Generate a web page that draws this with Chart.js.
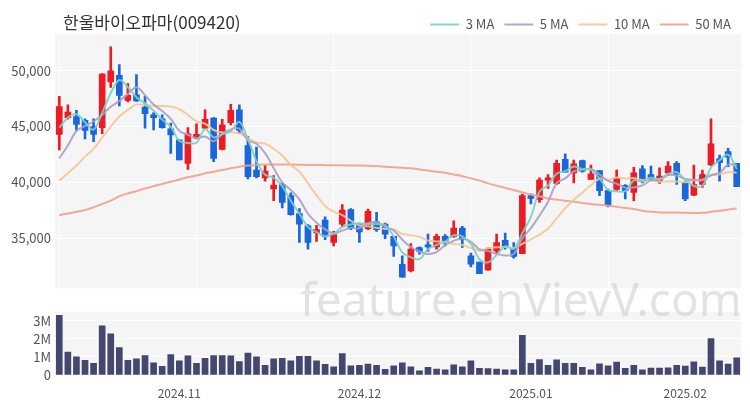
<!DOCTYPE html>
<html><head><meta charset="utf-8">
<script src="https://cdn.jsdelivr.net/npm/chart.js@4"></script>
<style>
html,body{margin:0;padding:0;background:#fff;}
#wrap{position:relative;width:750px;height:400px;overflow:hidden;font-family:'Noto Sans CJK KR','Noto Sans',sans-serif;}
#title{position:absolute;left:63px;top:10px;font-size:17px;line-height:24px;color:#333;white-space:nowrap;}
#mainC{position:absolute;left:0;top:0;}
#volC{position:absolute;left:0;top:300px;}
#wm{position:absolute;left:300px;top:275px;font-family:'Noto Sans',sans-serif;font-size:46px;line-height:46px;color:rgba(200,200,200,0.5);pointer-events:none;white-space:nowrap;}
</style></head>
<body><div id="wrap">
<canvas id="mainC" width="750" height="300"></canvas>
<canvas id="volC" width="750" height="100"></canvas>
<div id="title">한울바이오파마(009420)</div>
<div id="wm">feature.enVievV.com</div>
</div>
<script>
const dates = [
 '2024-10-14','2024-10-15','2024-10-16','2024-10-17','2024-10-18','2024-10-21','2024-10-22','2024-10-23','2024-10-24','2024-10-25','2024-10-28','2024-10-29','2024-10-30','2024-10-31',
 '2024-11-01','2024-11-04','2024-11-05','2024-11-06','2024-11-07','2024-11-08','2024-11-11','2024-11-12','2024-11-13','2024-11-14','2024-11-15','2024-11-18','2024-11-19','2024-11-20','2024-11-21','2024-11-22','2024-11-25','2024-11-26','2024-11-27','2024-11-28','2024-11-29',
 '2024-12-02','2024-12-03','2024-12-04','2024-12-05','2024-12-06','2024-12-09','2024-12-10','2024-12-11','2024-12-12','2024-12-13','2024-12-16','2024-12-17','2024-12-18','2024-12-19','2024-12-20','2024-12-23','2024-12-24','2024-12-26','2024-12-27','2024-12-30',
 '2025-01-02','2025-01-03','2025-01-06','2025-01-07','2025-01-08','2025-01-09','2025-01-10','2025-01-13','2025-01-14','2025-01-15','2025-01-16','2025-01-17','2025-01-20','2025-01-21','2025-01-22','2025-01-23','2025-01-24','2025-01-31',
 '2025-02-03','2025-02-04','2025-02-05','2025-02-06','2025-02-07','2025-02-10','2025-02-11'
];
const opens = [44300,45800,45900,45550,45000,44900,49000,49600,47350,47850,46750,46050,45700,44800,43800,41700,43950,44850,45750,42950,45350,46500,43300,41100,40400,39400,39800,38800,37200,36100,35450,36600,34600,36250,37550,36200,35850,36450,36250,35150,32650,32050,34150,34400,34200,35150,35150,35900,33400,32850,32150,33850,34800,34100,33600,38800,38450,40200,39900,42050,40850,41950,40250,41050,39250,39350,39700,39100,41200,40700,40100,40850,41700,39950,38850,39800,41550,42100,42750,41700];
const highs = [47700,46950,46450,45700,45700,49750,52150,50550,48850,49650,47700,46250,46050,45300,43800,44900,45250,46500,45800,45650,47000,46950,44100,43150,41500,40600,39950,39050,37650,36200,36150,36900,35600,38000,37650,36350,37600,37300,36350,35150,33400,34500,34200,35350,35350,35300,36550,36050,33650,32850,34150,35350,35450,34600,38950,38950,40400,40700,42000,42550,42000,42000,41550,41050,39400,41100,39800,41350,41500,41450,41300,41850,41850,40100,41550,41100,45700,42450,43050,41700];
const lows = [42900,45650,44650,43900,43650,44350,48500,46850,47200,47250,44850,44700,44850,42600,42000,41150,43900,44800,41850,42900,45150,44350,40300,40400,40100,38350,37700,37050,34600,34000,34700,34850,34300,36050,35750,34600,35750,35600,34950,33350,31500,31950,33550,33800,34000,34300,35050,34150,32400,31800,32100,33550,34000,33200,33600,38050,38200,39450,39800,40900,39950,40900,40250,38800,37800,39250,38500,38350,39950,40200,39900,40600,39800,38350,38800,39550,41500,40100,41400,39600];
const closes = [46800,46300,45200,44650,44300,49700,50000,47800,47800,47300,46150,45800,44900,44250,42000,44350,44300,45650,42150,45150,46450,44650,40500,40500,41000,39750,38200,37100,36250,34600,35750,35150,35300,37500,35850,35550,37400,35750,35350,34300,31500,34000,33800,34200,35150,34700,35900,34850,32650,31800,34000,34600,34150,33350,38800,38550,40200,40400,41700,40900,41650,41000,40750,39250,37950,40400,39250,40850,40100,40250,40550,41450,40700,38500,39800,40700,43450,41750,42250,39600];
const volumes = [3310000,1270000,1010000,810000,650000,2720000,2280000,1520000,810000,890000,1070000,680000,480000,1130000,780000,1060000,640000,930000,1070000,1070000,1060000,750000,1210000,1010000,540000,890000,920000,780000,1040000,1040000,790000,590000,450000,1180000,510000,530000,600000,540000,310000,510000,670000,450000,230000,420000,330000,290000,560000,450000,780000,370000,360000,330000,290000,290000,2200000,640000,860000,530000,840000,650000,650000,420000,290000,620000,510000,710000,370000,530000,290000,390000,390000,400000,530000,500000,730000,440000,2020000,780000,610000,950000];
const ma3 = [44900,45800,46100,45380,44720,46220,48000,49170,48530,47630,47080,46420,45620,44980,43720,43530,43550,44770,44030,44320,44580,45420,43870,41880,40670,40420,39650,38350,37180,35980,35530,35170,35400,35980,36220,36300,36270,36230,36170,35130,33720,33270,33100,34000,34380,34680,35250,35150,34470,33100,32820,33470,34250,34030,35430,36900,39180,39720,40770,41000,41420,41180,41130,40330,39320,39200,39200,40170,40070,40400,40300,40750,40900,40220,39670,39670,41320,41970,42480,41200];
const ma5 = [42150,43300,44600,45050,45450,46030,46770,47290,47920,48520,47810,46970,46390,45680,44620,44260,43960,44110,43690,44320,44740,44810,43780,43450,42620,41280,39990,39310,38460,37180,36380,35770,35410,35660,35910,35870,36320,36410,35980,35670,34860,34180,33790,33560,33730,34370,34750,34960,34650,33980,33840,33580,33440,33580,34980,35890,37010,38260,39930,40350,40970,41130,41200,40710,40120,39870,39520,39540,39710,40170,40200,40640,40610,40290,40200,40230,40630,40840,41590,41550];
const ma10 = [40150,40800,41500,42300,43000,44000,45000,45900,46500,46990,46920,46870,46840,46800,46570,46040,45470,45250,44690,44470,44500,44390,43950,43570,43470,43010,42400,41550,40960,39900,38830,37880,37360,37060,36550,36130,36050,35910,35820,35790,35370,35250,35100,34770,34700,34620,34470,34380,34110,33860,34110,34170,34200,34120,34480,34870,35300,35850,36760,37670,38430,39070,39730,40320,40240,40420,40330,40370,40210,40150,40040,40080,40080,40000,40190,40200,40620,40710,40920,40860];
const ma50 = [37050,37200,37350,37500,37750,38050,38350,38750,39000,39200,39450,39650,39850,40050,40250,40450,40600,40800,40950,41100,41250,41400,41500,41550,41600,41600,41600,41600,41580,41550,41550,41530,41520,41520,41500,41500,41480,41450,41400,41350,41300,41250,41150,41050,40950,40850,40700,40550,40350,40150,39900,39700,39500,39300,39100,38900,38750,38550,38450,38350,38250,38150,38050,37990,37900,37800,37700,37600,37450,37350,37300,37300,37280,37260,37250,37260,37350,37450,37550,37650];
const yTicks = [35000,40000,45000,50000];
const volTicks = [0,1000000,2000000,3000000];

const FONT = "'Noto Sans CJK KR','Noto Sans',sans-serif";
Chart.defaults.font.family = FONT;
Chart.defaults.font.size = 12;
Chart.defaults.color = '#555';

const RED = '#ec1c24', BLUE = '#1a66dc';
const candleColors = closes.map((c, i) => c >= opens[i] ? RED : BLUE);

const bgPlugin = {
  id: 'plotBg',
  beforeDraw(chart) {
    const a = chart.chartArea, ctx = chart.ctx;
    ctx.save();
    ctx.fillStyle = '#f5f5f5';
    ctx.fillRect(a.left, a.top, a.right - a.left, a.bottom - a.top);
    ctx.restore();
  }
};
const legendShift = {
  id: 'legendShift',
  afterLayout(chart) {
    const l = chart.legend;
    if (l) { l.top += 7; l.bottom += 7; }
  }
};

function maLine(label, data, color) {
  return {type: 'line', label, data, borderColor: color, backgroundColor: color,
    borderWidth: 2, pointRadius: 0, tension: 0.35, order: 1};
}

new Chart(document.getElementById('mainC'), {
  type: 'bar',
  data: {
    labels: dates,
    datasets: [
      maLine('3 MA', ma3, 'rgba(120,210,195,0.9)'),
      maLine('5 MA', ma5, 'rgba(170,158,200,0.9)'),
      maLine('10 MA', ma10, 'rgba(242,200,150,0.9)'),
      maLine('50 MA', ma50, 'rgba(244,158,140,0.9)'),
      {type: 'bar', label: 'body', data: opens.map((o, i) => [o, closes[i]]),
        backgroundColor: candleColors, barThickness: 6, grouped: false, minBarLength: 1, order: 5},
      {type: 'bar', label: 'wick', data: lows.map((l, i) => [l, highs[i]]),
        backgroundColor: candleColors, barThickness: 2, grouped: false, order: 6}
    ]
  },
  options: {
    responsive: false, animation: false,
    layout: {padding: {top: 1, right: 9, bottom: 5, left: 0}},
    plugins: {
      tooltip: {enabled: false},
      legend: {
        position: 'top', align: 'end',
        labels: {
          filter: item => item.text.indexOf('MA') >= 0,
          usePointStyle: true, pointStyle: 'line', pointStyleWidth: 29,
          padding: 10, color: '#555', font: {size: 13}
        }
      }
    },
    scales: {
      x: {
        offset: true,
        grid: {offset: false, drawTicks: false, lineWidth: 1,
          color: c => (c.index % 16 === 0 ? '#ffffff' : 'rgba(0,0,0,0)')},
        border: {display: false},
        ticks: {display: false},
        afterFit(s) { s.height = 0; }
      },
      y: {
        min: 30500, max: 53300,
        afterBuildTicks(s) { s.ticks = yTicks.map(v => ({value: v})); },
        grid: {color: '#ffffff', drawTicks: false},
        border: {display: false},
        ticks: {padding: 4, color: '#555', font: {size: 13}, callback: v => v.toLocaleString('en-US')},
        afterFit(s) { s.width = 55; }
      }
    }
  },
  plugins: [bgPlugin, legendShift]
});

function monthLabel(i) {
  if (i === 0) return '';
  const m = dates[i].slice(0, 7), p = dates[i - 1].slice(0, 7);
  return m !== p ? m.replace('-', '.') : '';
}

new Chart(document.getElementById('volC'), {
  type: 'bar',
  data: {
    labels: dates,
    datasets: [{label: 'Volume', data: volumes, backgroundColor: '#45476f', barThickness: 6}]
  },
  options: {
    responsive: false, animation: false,
    layout: {padding: {top: 0, right: 9, bottom: 0, left: 0}},
    plugins: {legend: {display: false}, tooltip: {enabled: false}},
    scales: {
      x: {
        offset: true,
        grid: {display: false},
        border: {display: false},
        ticks: {autoSkip: false, maxRotation: 0, minRotation: 0, padding: 3, color: '#555', font: {size: 12},
          callback: (v, i) => monthLabel(i)},
        afterFit(s) { s.height = 25; }
      },
      y: {
        min: 0, max: 3500000,
        afterBuildTicks(s) { s.ticks = volTicks.map(v => ({value: v})); },
        grid: {color: '#ffffff', drawTicks: false},
        border: {display: false},
        ticks: {padding: 4, color: '#555', font: {size: 13}, callback: v => v === 0 ? '0' : (v / 1000000) + 'M'},
        afterFit(s) { s.width = 55; }
      }
    }
  },
  plugins: [bgPlugin]
});
</script>
</body></html>
